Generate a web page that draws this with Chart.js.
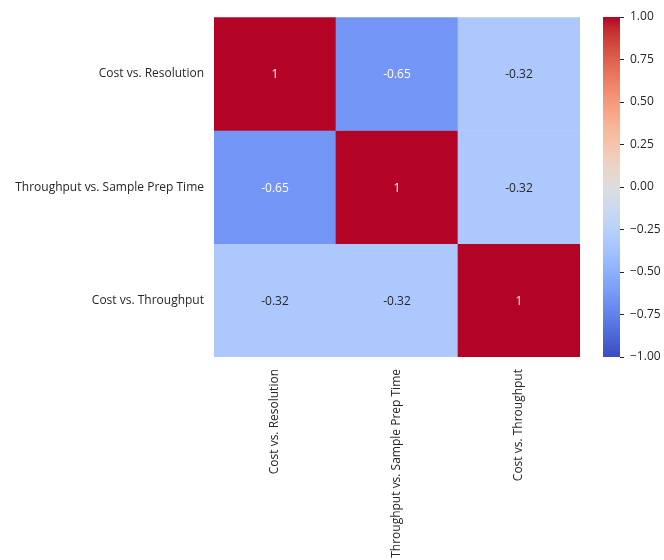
<!DOCTYPE html>
<html>
<head>
<meta charset="utf-8">
<script src="https://cdn.jsdelivr.net/npm/chart.js@4/dist/chart.umd.min.js"></script>
<style>
  html, body { margin: 0; padding: 0; background: #ffffff; }
  #wrap { position: relative; width: 664px; height: 560px; }
  canvas { position: absolute; left: 0; top: 0; }
</style>
</head>
<body>
<div id="wrap">
  <canvas id="main" width="664" height="560"></canvas>
  <canvas id="cbar" width="664" height="560"></canvas>
</div>
<script>
// ---- Data ----
const categories = ["Cost vs. Resolution", "Throughput vs. Sample Prep Time", "Cost vs. Throughput"];
const rowCostResolution = [1, -0.65, -0.32];
const rowThroughputPrep = [-0.65, 1, -0.32];
const rowCostThroughput = [-0.32, -0.32, 1];
const matrixRows = [rowCostResolution, rowThroughputPrep, rowCostThroughput];
const colorbarTicks = [1, 0.75, 0.5, 0.25, 0, -0.25, -0.5, -0.75, -1];
const vmin = -1, vmax = 1;

// ---- coolwarm colormap (Moreland, 33 points) ----
const coolwarm = [
  [59,76,192],[68,90,204],[77,104,215],[87,117,225],[98,130,234],[108,142,241],
  [119,154,247],[130,165,251],[141,176,254],[152,185,255],[163,194,255],[174,201,253],
  [184,208,249],[194,213,244],[204,217,238],[213,219,230],[221,221,221],[229,216,209],
  [236,211,197],[241,204,185],[245,196,173],[247,187,160],[247,177,148],[247,166,135],
  [244,154,123],[241,141,111],[236,127,99],[229,112,88],[222,96,77],[213,80,66],
  [203,62,56],[192,40,47],[180,4,38]
];
function cmap(t) {
  t = Math.max(0, Math.min(1, t));
  const p = t * (coolwarm.length - 1);
  const i = Math.min(Math.floor(p), coolwarm.length - 2);
  const f = p - i;
  const a = coolwarm[i], b = coolwarm[i + 1];
  return [0, 1, 2].map(k => Math.round(a[k] + (b[k] - a[k]) * f));
}
function colorFor(v) {
  const c = cmap((v - vmin) / (vmax - vmin));
  return `rgb(${c[0]},${c[1]},${c[2]})`;
}
function textColorFor(v) {
  const c = cmap((v - vmin) / (vmax - vmin)).map(x => {
    x /= 255; return x <= 0.03928 ? x / 12.92 : Math.pow((x + 0.055) / 1.055, 2.4);
  });
  const lum = 0.2126 * c[0] + 0.7152 * c[1] + 0.0722 * c[2];
  return lum > 0.408 ? '#262626' : '#ffffff';
}

const FONT = "'Open Sans', 'Noto Sans', sans-serif";
const TXT = '#262626';

// ---- Heatmap (floating bars, one dataset per row, not grouped) ----
const datasets = matrixRows.map((row, r) => ({
  label: categories[r],
  data: row.map(() => [r, r + 1]),
  values: row,
  backgroundColor: row.map(v => colorFor(v)),
  borderWidth: 0,
  grouped: false,
  barPercentage: 1.0,
  categoryPercentage: 1.0
}));

const annotate = {
  id: 'annotate',
  afterDatasetsDraw(chart) {
    const ctx = chart.ctx;
    ctx.save();
    ctx.font = `12px ${FONT}`;
    ctx.textAlign = 'center';
    ctx.textBaseline = 'middle';
    chart.data.datasets.forEach((ds, di) => {
      const meta = chart.getDatasetMeta(di);
      meta.data.forEach((el, i) => {
        const v = ds.values[i];
        const c = el.getCenterPoint();
        ctx.fillStyle = textColorFor(v);
        ctx.fillText(String(v), c.x, c.y + 1);
      });
    });
    ctx.restore();
  }
};

new Chart(document.getElementById('main'), {
  type: 'bar',
  data: { labels: categories, datasets },
  options: {
    responsive: false,
    animation: false,
    devicePixelRatio: 1,
    layout: { padding: { top: 17, right: 84, bottom: 0, left: 0 } },
    plugins: { legend: { display: false }, tooltip: { enabled: false } },
    scales: {
      x: {
        type: 'category',
        offset: true,
        grid: { display: false, drawTicks: false },
        border: { display: false },
        ticks: {
          autoSkip: false, minRotation: 90, maxRotation: 90, padding: 12,
          color: TXT, font: { family: FONT, size: 12 }
        },
        afterFit(scale) { scale.height = 203; }
      },
      y: {
        type: 'linear',
        reverse: true,
        min: 0, max: 3,
        grid: { display: false, drawTicks: false },
        border: { display: false },
        afterBuildTicks(scale) {
          scale.ticks = categories.map((_, i) => ({ value: i + 0.5 }));
        },
        ticks: {
          padding: 10,
          color: TXT, font: { family: FONT, size: 12 },
          callback: (v) => categories[Math.floor(v)]
        },
        afterFit(scale) { scale.width = 214; }
      }
    }
  },
  plugins: [annotate]
});

// ---- Colorbar ----
function gradientBg(context) {
  const chart = context.chart;
  const area = chart.chartArea;
  if (!area) return colorFor(0);
  const ys = chart.scales.y;
  const g = chart.ctx.createLinearGradient(0, ys.getPixelForValue(vmin), 0, ys.getPixelForValue(vmax));
  for (let i = 0; i < coolwarm.length; i++) {
    const c = coolwarm[i];
    g.addColorStop(i / (coolwarm.length - 1), `rgb(${c[0]},${c[1]},${c[2]})`);
  }
  return g;
}

new Chart(document.getElementById('cbar'), {
  type: 'bar',
  data: {
    labels: ['cb'],
    datasets: [{
      data: [[vmin, vmax]],
      backgroundColor: gradientBg,
      borderWidth: 0,
      barPercentage: 1.0,
      categoryPercentage: 1.0
    }]
  },
  options: {
    responsive: false,
    animation: false,
    devicePixelRatio: 1,
    layout: { padding: { top: 17, right: 0, bottom: 203, left: 603 } },
    plugins: { legend: { display: false }, tooltip: { enabled: false } },
    scales: {
      x: { display: false },
      y: {
        position: 'right',
        min: vmin, max: vmax,
        afterBuildTicks(scale) {
          scale.ticks = colorbarTicks.map(v => ({ value: v }));
        },
        grid: { drawOnChartArea: false, drawTicks: true, tickLength: 4, color: '#262626', lineWidth: 1 },
        border: { display: false },
        ticks: {
          padding: 6,
          color: TXT, font: { family: FONT, size: 12 },
          callback: (v) => (v < 0 ? '\u2212' : '') + Math.abs(v).toFixed(2)
        },
        afterFit(scale) { scale.width = 44; }
      }
    }
  }
});
</script>
</body>
</html>
